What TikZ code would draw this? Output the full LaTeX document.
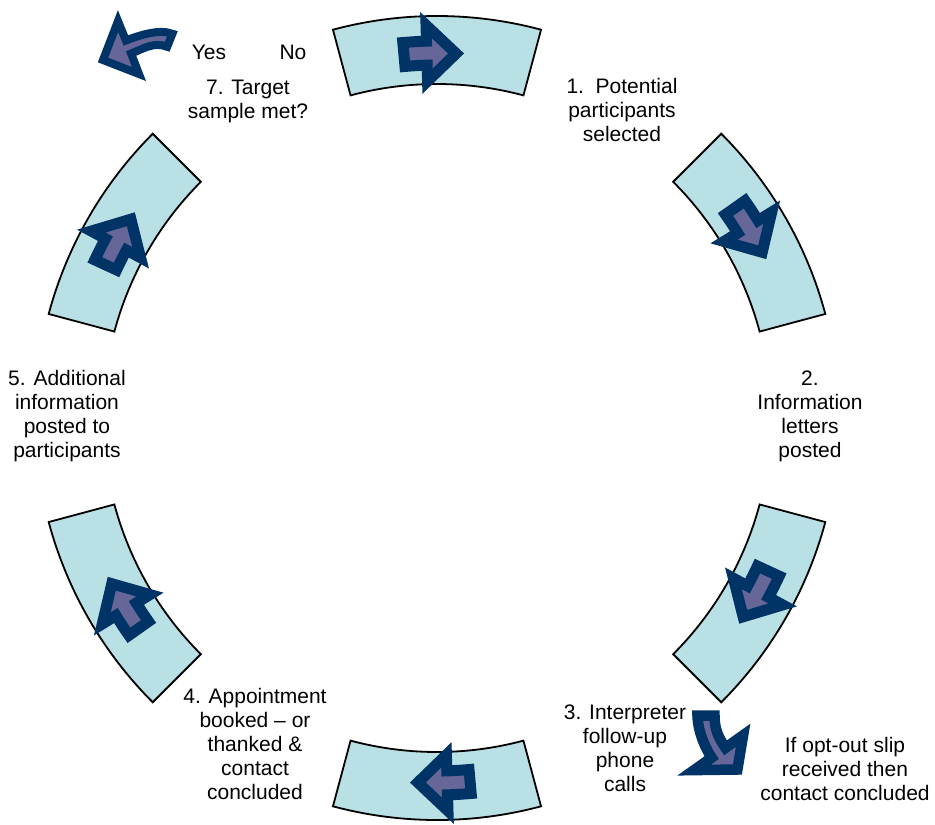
\documentclass[tikz,border=0pt]{standalone}
\usepackage{fontspec}
\setmainfont{Liberation Sans}
\definecolor{segfill}{RGB}{185,224,228}
\definecolor{navyc}{RGB}{0,51,102}
\definecolor{purplec}{RGB}{102,102,153}
\begin{document}
\begin{tikzpicture}[x=1pt,y=1pt,
  seg/.style={draw=black, line width=1.8pt, fill=segfill, line join=miter},
  blockarrow/.style={draw=navyc, line width=11pt, fill=purplec, line join=miter, miter limit=20},
  lbl/.style={align=center, inner sep=0pt, font=\fontsize{21}{24}\selectfont}]
\useasboundingbox (0,0) rectangle (935,-825);
\begin{scope}[shift={(437,-418)}]
\foreach \t in {90,30,-30,-90,-150,150}{
  \draw[seg] ({\t-15}:334) -- ({\t-15}:402) arc[start angle=\t-15, end angle=\t+15, radius=402]
     -- ({\t+15}:334) arc[start angle=\t+15, end angle=\t-15, radius=334] -- cycle;
  \draw[blockarrow] ({\t+5.2}:377) arc[start angle=\t+5.2, end angle=\t+1.6, radius=377]
     -- ({\t+1.6}:393) -- ({\t-3}:365) -- ({\t+1.6}:337) -- ({\t+1.6}:353)
     arc[start angle=\t+1.6, end angle=\t+5.2, radius=353] -- cycle;
}
\end{scope}
% Yes arrow
\draw[blockarrow, line width=8pt] (172.4,-33.8) .. controls (159.4,-28.6) and (138.9,-35.4) .. (125.9,-40.5)
  -- (118,-21) -- (103,-60) -- (139,-74) -- (131.1,-53.5)
  .. controls (144.1,-48.4) and (154.2,-41.6) .. (167.2,-46.8) -- cycle;
% opt-out arrow
\draw[blockarrow, line width=10.5pt] (697.5,-715.5) -- (714.5,-715.5) .. controls (714.5,-728.5) and (718,-737.2) .. (725.5,-747.8)
  -- (743.1,-735.3) -- (737.4,-769.5) -- (694.1,-770.1) -- (711.7,-757.6)
  .. controls (704.2,-747) and (697.5,-728.5) .. (697.5,-715.5) -- cycle;
% labels
\node[lbl] (l1) at (622,-110) {1.\ \ Potential\\participants\\selected};
\node[lbl] (l2) at (810,-416) {2.\\Information\\letters\\posted};
\node[lbl] (l3) at (625,-748) {3. Interpreter\\follow-up\\phone\\calls};
\node[lbl] (l4) at (255,-744) {4. Appointment\\booked -- or\\thanked \&\\contact\\concluded};
\node[lbl] (l5) at (67,-416) {5. Additional\\information\\posted to\\participants};
\node[lbl] (l7) at (248,-101) {7. Target\\sample met?};
\node[lbl] (yes) at (209,-52) {Yes};
\node[lbl] (no) at (293,-52) {No};
\node[lbl] (opt) at (845,-769) {If opt-out slip\\received then\\contact concluded};
\end{tikzpicture}
\end{document}
